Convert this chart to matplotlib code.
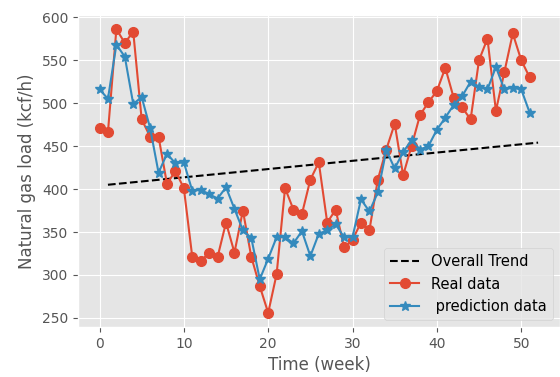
import numpy as np
import matplotlib
matplotlib.use("Agg")
import matplotlib.pyplot as plt

plt.style.use("ggplot")

# 周数 0..51
weeks = np.arange(52)

# 实际负荷
real_load = [471, 466, 586, 570, 583, 481, 461, 461, 406, 421,
             401, 321, 316, 326, 321, 361, 326, 375, 321, 287,
             256, 301, 401, 376, 371, 411, 431, 361, 376, 332,
             341, 361, 352, 411, 446, 476, 416, 450, 486, 501,
             514, 541, 506, 495, 481, 550, 575, 491, 536, 581,
             550, 530]

# 预测负荷
pred_load = [516, 505, 568, 554, 499, 507, 471, 419, 441, 430,
             431, 398, 399, 394, 389, 402, 377, 352, 343, 295,
             319, 344, 344, 337, 351, 322, 348, 352, 359, 344,
             344, 388, 374, 396, 445, 424, 443, 457, 446, 450,
             469, 483, 498, 508, 525, 519, 516, 542, 516, 518,
             516, 489]

# 总体趋势线端点
trend_x = [1, 52]
trend_y = [405, 454]

fig = plt.figure(figsize=(5.6, 3.77), dpi=100)
ax = fig.add_axes([78 / 560, 50 / 377, 482 / 560, 312 / 377])

ax.plot(trend_x, trend_y, "k--", lw=1.5, label="Overall Trend")
ax.plot(weeks, real_load, "-o", color="#E24A33", lw=1.5, markersize=7, label="Real data")
ax.plot(weeks, pred_load, "-*", color="#348ABD", lw=1.5, markersize=7, label=" prediction data")

ax.set_xlim(-2.55, 54.6)
ax.set_ylim(239.5, 602.5)
ax.set_xticks([0, 10, 20, 30, 40, 50])
ax.set_yticks([250, 300, 350, 400, 450, 500, 550, 600])
ax.set_xlabel("Time (week)")
ax.set_ylabel("Natural gas load (kcf/h)")
ax.legend(loc="lower right", fontsize=10.5)

fig.savefig("out.png", dpi=100)
